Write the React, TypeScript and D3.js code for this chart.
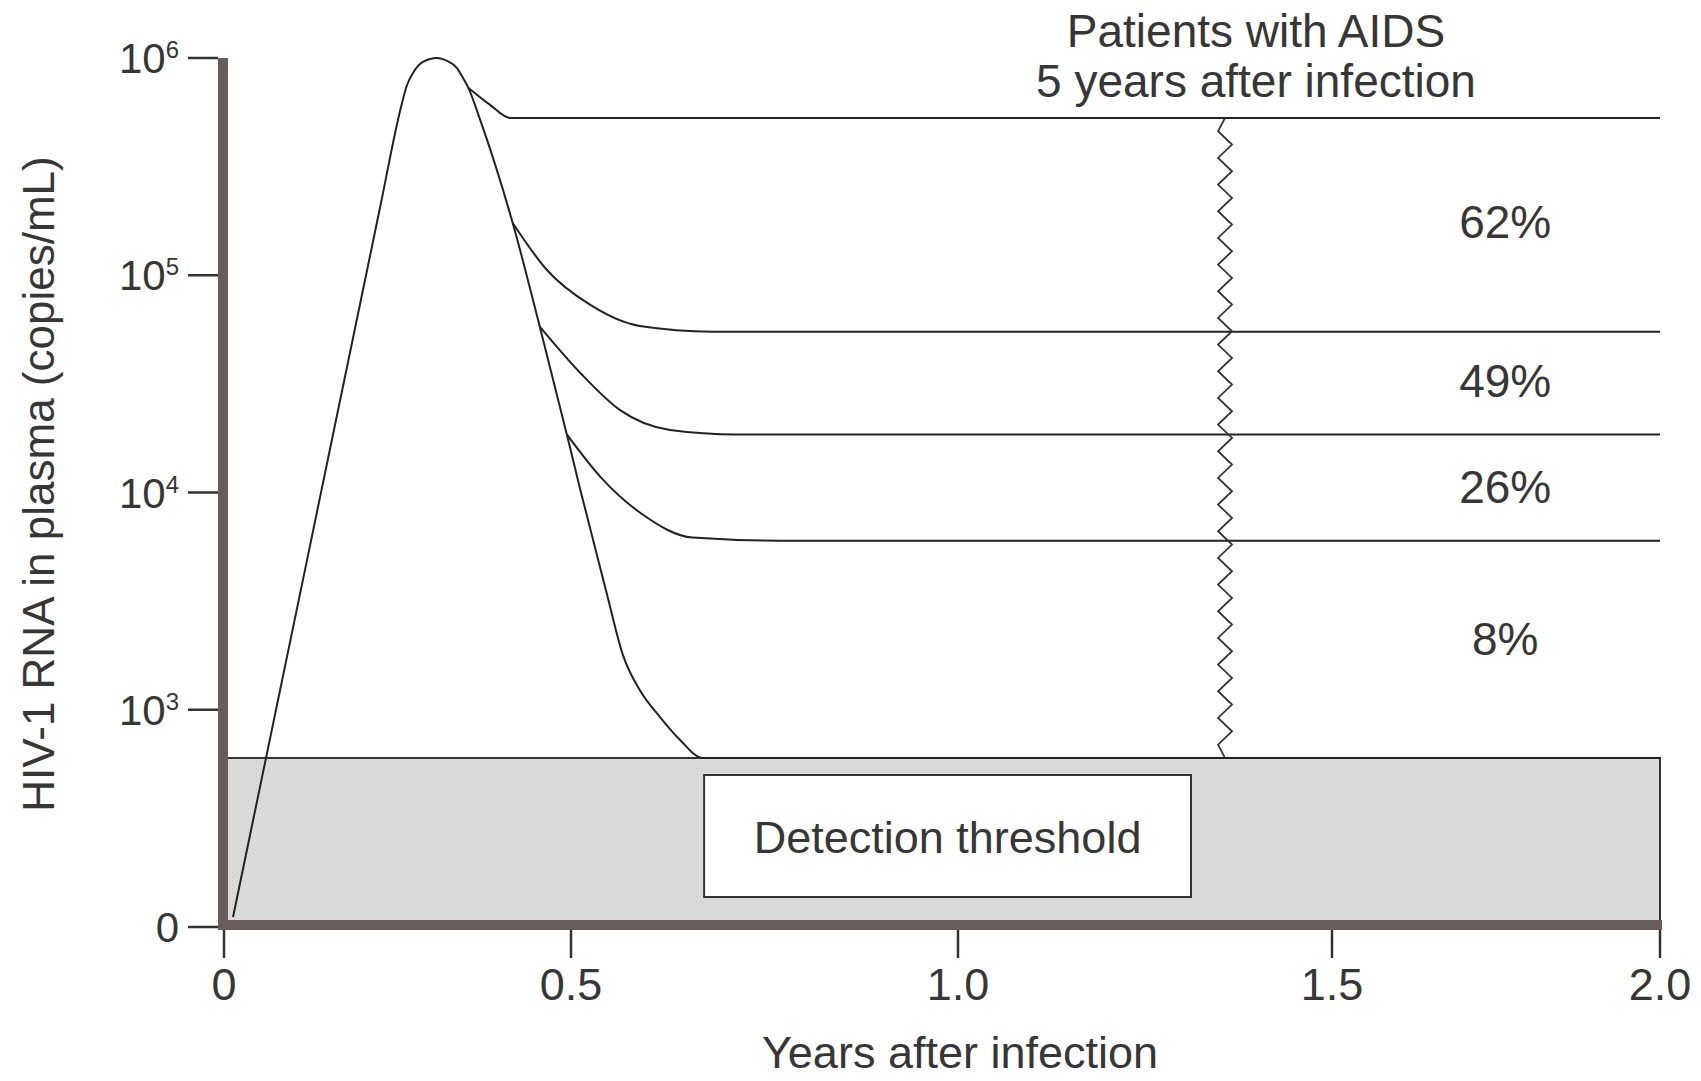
import React from "react";
import * as d3 from "d3";

const W = 1701;
const H = 1081;

// Axis ticks (the original schematic axis is unevenly spaced)
const xTickValues = [0, 0.5, 1.0, 1.5, 2.0];
const xTickLabels = ["0", "0.5", "1.0", "1.5", "2.0"];
const yTickValues = [1e2, 1e3, 1e4, 1e5, 1e6];
const yTickExponents = ["", "3", "4", "5", "6"]; // "" -> plain "0"

// Primary viremia curve: [years, copies/mL]
const primaryCurve: [number, number][] = [
  [0.013, 111],
  [0.12, 4.95e3],
  [0.225, 2.06e5],
  [0.255, 5.94e5],
  [0.2637, 7.51e5],
  [0.2723, 8.53e5],
  [0.2867, 9.59e5],
  [0.3069, 1.0e6],
  [0.3213, 9.69e5],
  [0.3357, 8.99e5],
  [0.3444, 8.09e5],
  [0.352, 7.3e5],
  [0.369, 5.2e5],
  [0.416, 1.74e5],
  [0.455, 5.8e4],
  [0.494, 1.85e4],
  [0.512, 1.03e4],
  [0.547, 3.34e3],
  [0.567, 1.79e3],
  [0.589, 1.23e3],
  [0.615, 926],
  [0.641, 726],
  [0.67, 600],
  [2.0, 600],
];

// Set-point branches
const branch62: [number, number][] = [
  [0.352, 7.3e5],
  [0.383, 6.1e5],
  [0.412, 5.3e5],
  [2.0, 5.3e5],
];
const branch49: [number, number][] = [
  [0.416, 1.74e5],
  [0.465, 1.06e5],
  [0.525, 7.3e4],
  [0.589, 5.84e4],
  [0.683, 5.5e4],
  [2.0, 5.5e4],
];
const branch26: [number, number][] = [
  [0.455, 5.8e4],
  [0.512, 3.55e4],
  [0.563, 2.4e4],
  [0.628, 1.94e4],
  [0.714, 1.85e4],
  [2.0, 1.85e4],
];
const branch8: [number, number][] = [
  [0.494, 1.85e4],
  [0.538, 1.18e4],
  [0.593, 7.9e3],
  [0.657, 6.2e3],
  [0.77, 6.0e3],
  [2.0, 6.0e3],
];

const groupLabels = ["62%", "49%", "26%", "8%"];
const groupLabelLevels = [1.76e5, 3.26e4, 1.06e4, 2.12e3];
const GROUP_LABEL_YEAR = 1.764;

const THRESHOLD = 600;
const ZIGZAG_YEAR = 1.357;
const BOX_YEARS = [0.672, 1.3115];

const titleLines = ["Patients with AIDS", "5 years after infection"];
const xAxisTitle = "Years after infection";
const yAxisTitle = "HIV-1 RNA in plasma (copies/mL)";
const boxLabel = "Detection threshold";

const FONT = "'Liberation Sans', Arial, Helvetica, sans-serif";
const INK = "#363636";
const AXIS_BAR = "#675d5d";

export default function App() {
  const x = d3
    .scaleLinear()
    .domain(xTickValues)
    .range([224, 571, 958, 1332, 1660]);
  const y = d3.scaleLog().domain([1e2, 1e6]).range([927, 58]);

  const line = d3
    .line<[number, number]>()
    .x((d) => x(d[0]))
    .y((d) => y(d[1]))
    .curve(d3.curveMonotoneX);

  const series = [primaryCurve, branch62, branch49, branch26, branch8];

  // zigzag marker
  const zx = x(ZIGZAG_YEAR);
  const zTop = y(branch62[branch62.length - 1][1]);
  const zBot = y(THRESHOLD);
  const nSteps = 48;
  const zig: [number, number][] = d3.range(nSteps + 1).map((i) => {
    const yy = zTop + ((zBot - zTop) * i) / nSteps;
    const xx = i === 0 || i === nSteps ? zx : zx + (i % 2 === 1 ? -7 : 7);
    return [xx, yy];
  });
  const zigPath = d3.line()(zig) || "";

  const yBarX = 223;
  const xBarY = 925;
  const gLeft = 228;
  const gRight = x(2.0);
  const gTop = y(THRESHOLD);
  const gBottom = 920;

  const boxX0 = x(BOX_YEARS[0]);
  const boxX1 = x(BOX_YEARS[1]);

  return (
    <svg
      width={W}
      height={H}
      style={{ position: "absolute", left: 0, top: 0, background: "#fff" }}
      fontFamily={FONT}
    >
      <defs>
        <pattern id="stip" width="4" height="4" patternUnits="userSpaceOnUse">
          <rect width="4" height="4" fill="#dcdcdc" />
          <rect x="0" y="0" width="1" height="1" fill="#c6c6c6" />
          <rect x="2" y="2" width="1" height="1" fill="#cacaca" />
        </pattern>
      </defs>
      <rect width={W} height={H} fill="#fff" />

      {/* detection threshold band */}
      <rect
        x={gLeft}
        y={gTop}
        width={gRight - gLeft}
        height={gBottom - gTop}
        fill="url(#stip)"
      />
      <path
        d={`M${gLeft},${gTop}H${gRight}V${gBottom}`}
        fill="none"
        stroke="#333"
        strokeWidth={2}
      />
      <rect
        x={boxX0}
        y={775}
        width={boxX1 - boxX0}
        height={122}
        fill="#fff"
        stroke="#333"
        strokeWidth={2}
      />
      <text
        x={(boxX0 + boxX1) / 2}
        y={853}
        textAnchor="middle"
        fontSize={45}
        fill={INK}
      >
        {boxLabel}
      </text>

      {/* curves */}
      {series.map((s, i) => (
        <path
          key={i}
          d={line(s) || ""}
          fill="none"
          stroke="#222"
          strokeWidth={2}
          strokeLinejoin="round"
        />
      ))}

      {/* zigzag */}
      <path d={zigPath} fill="none" stroke="#333" strokeWidth={1.8} />

      {/* axes bars */}
      <line x1={yBarX} x2={yBarX} y1={y(1e6)} y2={930} stroke={AXIS_BAR} strokeWidth={10} />
      <line x1={219} x2={gRight + 2} y1={xBarY} y2={xBarY} stroke={AXIS_BAR} strokeWidth={10} />

      {/* y ticks */}
      {yTickValues.map((v, i) => (
        <g key={"yt" + i}>
          <line x1={188} x2={218} y1={y(v)} y2={y(v)} stroke="#333" strokeWidth={2.5} />
          <text x={179} y={y(v) + 15} textAnchor="end" fontSize={42} fill={INK}>
            {yTickExponents[i] === "" ? (
              "0"
            ) : (
              <>
                <tspan>10</tspan>
                <tspan dy={-15} fontSize={24}>
                  {yTickExponents[i]}
                </tspan>
              </>
            )}
          </text>
        </g>
      ))}

      {/* x ticks */}
      {xTickValues.map((v, i) => (
        <g key={"xt" + i}>
          <line x1={x(v)} x2={x(v)} y1={930} y2={958} stroke="#333" strokeWidth={2.5} />
          <text x={x(v)} y={1000} textAnchor="middle" fontSize={45} fill={INK}>
            {xTickLabels[i]}
          </text>
        </g>
      ))}

      {/* axis titles */}
      <text x={960} y={1068} textAnchor="middle" fontSize={45} fill={INK}>
        {xAxisTitle}
      </text>
      <text
        transform={`translate(54,484) rotate(-90)`}
        textAnchor="middle"
        fontSize={44}
        fill={INK}
      >
        {yAxisTitle}
      </text>

      {/* title */}
      {titleLines.map((t, i) => (
        <text key={"tl" + i} x={1256} y={47 + i * 50} textAnchor="middle" fontSize={46} fill={INK}>
          {t}
        </text>
      ))}

      {/* group percentages */}
      {groupLabels.map((t, i) => (
        <text
          key={"gl" + i}
          x={x(GROUP_LABEL_YEAR)}
          y={y(groupLabelLevels[i]) + 16}
          textAnchor="middle"
          fontSize={46}
          fill={INK}
        >
          {t}
        </text>
      ))}
    </svg>
  );
}
